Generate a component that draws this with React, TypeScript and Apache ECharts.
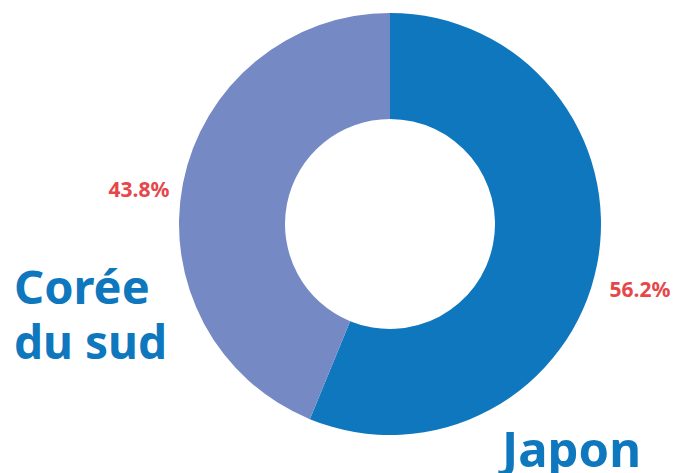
import React, { useEffect, useRef } from "react";
import * as echarts from "echarts";

const categories = ["Japon", "Corée du sud"];
const values = [56.2, 43.8];
const colors = ["#0e77bd", "#7589c5"];

export default function App() {
  const ref = useRef<HTMLDivElement>(null);
  useEffect(() => {
    document.body.style.margin = "0";
    const chart = echarts.init(ref.current!, null, { renderer: "svg" });
    const total = values.reduce((a, b) => a + b, 0);
    const pct = values.map((v) => ((v / total) * 100).toFixed(1) + "%");
    const font = "'Noto Sans', sans-serif";
    chart.setOption({
      animation: false,
      backgroundColor: "#ffffff",
      series: [
        {
          type: "pie",
          center: [390, 224],
          radius: [105, 211],
          startAngle: 90,
          clockwise: true,
          label: { show: false },
          labelLine: { show: false },
          emphasis: { disabled: true },
          data: categories.map((c, i) => ({ name: c, value: values[i], itemStyle: { color: colors[i] } })),
        },
      ],
      graphic: [
        { type: "text", style: { text: pct[1], x: 139, y: 178, textAlign: "center", font: `bold 21px ${font}`, fill: "#e5474b" } },
        { type: "text", style: { text: pct[0], x: 640, y: 278, textAlign: "center", font: `bold 21px ${font}`, fill: "#e5474b" } },
        { type: "text", style: { text: "Corée", x: 14, y: 262, textAlign: "left", font: `bold 47px ${font}`, fill: "#0e77bd" } },
        { type: "text", style: { text: "du sud", x: 14, y: 318, textAlign: "left", font: `bold 46px ${font}`, fill: "#0e77bd" } },
        { type: "text", style: { text: categories[0], x: 502, y: 423, textAlign: "left", font: `bold 49px ${font}`, fill: "#0e77bd" } },
      ],
    });
    return () => chart.dispose();
  }, []);
  return <div ref={ref} style={{ width: 686, height: 473 }} />;
}
